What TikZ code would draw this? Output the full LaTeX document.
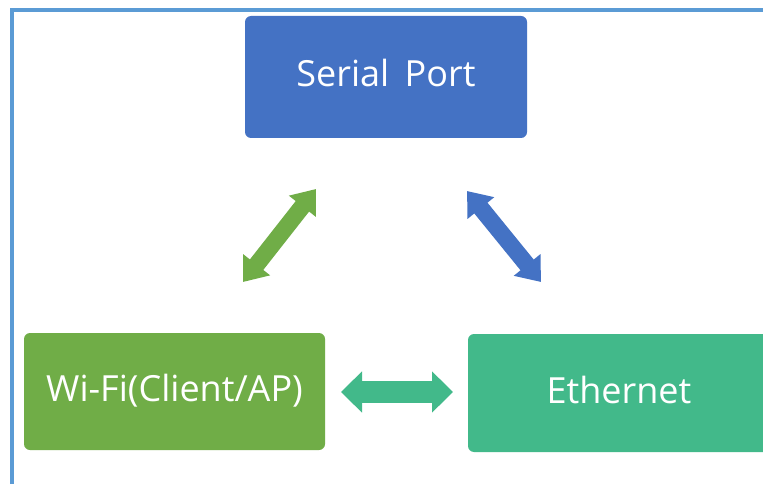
\documentclass[tikz,border=0pt]{standalone}
\usepackage{fontspec}
\setmainfont{Open Sans}
\usetikzlibrary{arrows.meta}
\definecolor{frameblue}{RGB}{91,155,213}
\definecolor{boxblue}{RGB}{68,114,196}
\definecolor{boxgreen}{RGB}{112,173,71}
\definecolor{boxteal}{RGB}{66,185,138}
\tikzset{
  box/.style={rectangle, rounded corners=6pt, text=white, inner sep=0pt,
    font=\fontsize{36}{40}\selectfont, text height=26pt, text depth=6pt},
  diagarrow/.style={line width=17pt,
    {Triangle[width=33pt,length=22pt]}-{Triangle[width=33pt,length=22pt]}},
  horarrow/.style={line width=22pt,
    {Triangle[width=40pt,length=21pt]}-{Triangle[width=40pt,length=21pt]}}
}
\begin{document}
\begin{tikzpicture}[x=1pt,y=-1pt]
\useasboundingbox (0,0) rectangle (763,484);
\clip (0,0) rectangle (763,484);
\fill[white] (0,0) rectangle (763,484);
\draw[frameblue, line width=4.5pt] (12,490) -- (12,10) -- (770,10);
\node[box, fill=boxblue, minimum width=282pt, minimum height=122pt] (serial) at (386,77) {Serial\, Port};
\node[box, fill=boxgreen, minimum width=301pt, minimum height=117pt] (wifi) at (174.5,391.5) {Wi-Fi(Client/AP)};
\node[box, fill=boxteal, minimum width=302pt, minimum height=118pt] (eth) at (619,393) {Ethernet};
\coordinate (ga) at (316,189);
\coordinate (gb) at (243,282);
\coordinate (ba) at (467,191);
\coordinate (bb) at (541,282);
\coordinate (ha) at (341,392);
\coordinate (hb) at (453,392);
\draw[diagarrow, boxgreen] (ga) -- (gb);
\draw[diagarrow, boxblue] (ba) -- (bb);
\draw[horarrow, boxteal] (ha) -- (hb);
\end{tikzpicture}
\end{document}
